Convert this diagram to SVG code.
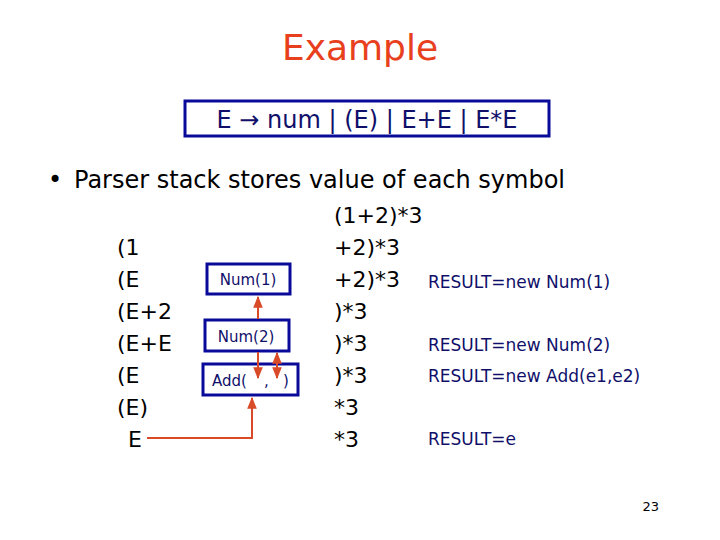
<svg xmlns="http://www.w3.org/2000/svg" width="720" height="540" viewBox="0 0 720 540">
<style>
text{font-family:"DejaVu Sans",Verdana,sans-serif;fill:#000}
.b{fill:#fff;stroke:#0a0a9a;stroke-width:3}
.s{font-size:15px;fill:#10106a}
.l{font-size:22px}
.r{font-size:17px;fill:#10106a}
.c{stroke:#d84a28;stroke-width:2;fill:none}
</style>
<defs><marker id="a" viewBox="0 0 10 10" refX="9" refY="5" markerWidth="6" markerHeight="6" orient="auto-start-reverse"><path d="M0,1L10,5L0,9z" fill="#d84a28"/></marker></defs>
<rect width="720" height="540" fill="#fff"/>
<text x="360" y="60" text-anchor="middle" style="font-size:36px;fill:#e8401c">Example</text>
<g id="grammar"><rect class="b" x="185" y="101" width="364" height="35"/>
<text x="367" y="128" text-anchor="middle" style="font-size:24px;fill:#10106a">E → num | (E) | E+E | E*E</text></g>
<text x="48" y="188" style="font-size:24px">•</text>
<text x="74" y="188" style="font-size:24px">Parser stack stores value of each symbol</text>
<g class="l">
<text x="117" y="255" class="l">(1</text><text x="117" y="287" class="l">(E</text><text x="117" y="319" class="l">(E+2</text><text x="117" y="351" class="l">(E+E</text><text x="117" y="383" class="l">(E</text><text x="117" y="415" class="l">(E)</text><text x="128" y="447" class="l">E</text>
<text x="334" y="223" class="l">(1+2)*3</text><text x="334" y="255" class="l">+2)*3</text><text x="334" y="287" class="l">+2)*3</text><text x="334" y="319" class="l">)*3</text><text x="334" y="351" class="l">)*3</text><text x="334" y="383" class="l">)*3</text><text x="334" y="415" class="l">*3</text><text x="334" y="447" class="l">*3</text>
</g>
<text x="428" y="288" class="r">RESULT=new Num(1)</text>
<text x="428" y="351" class="r">RESULT=new Num(2)</text>
<text x="428" y="382" class="r">RESULT=new Add(e1,e2)</text>
<text x="428" y="445" class="r">RESULT=e</text>
<g id="num1"><rect class="b" x="207" y="264" width="83" height="30"/><text x="248" y="285" text-anchor="middle" class="s">Num(1)</text></g>
<g id="num2"><rect class="b" x="205" y="320" width="84" height="31"/><text x="246" y="342" text-anchor="middle" class="s">Num(2)</text></g>
<g id="add"><rect class="b" x="203" y="364" width="95" height="31"/><text x="212" y="386" class="s">Add(</text><text x="264" y="386" class="s">,</text><text x="283" y="386" class="s">)</text></g>
<g id="connectors">
<path class="c" d="M258,319V297" marker-end="url(#a)"/>
<path class="c" d="M258,352V378" marker-end="url(#a)"/>
<path class="c" d="M277,378V353" marker-end="url(#a)" marker-start="url(#a)"/>
<path class="c" d="M147,438H252V398" marker-end="url(#a)"/>
</g>
<text x="659" y="511" text-anchor="end" style="font-size:13px">23</text>
</svg>
